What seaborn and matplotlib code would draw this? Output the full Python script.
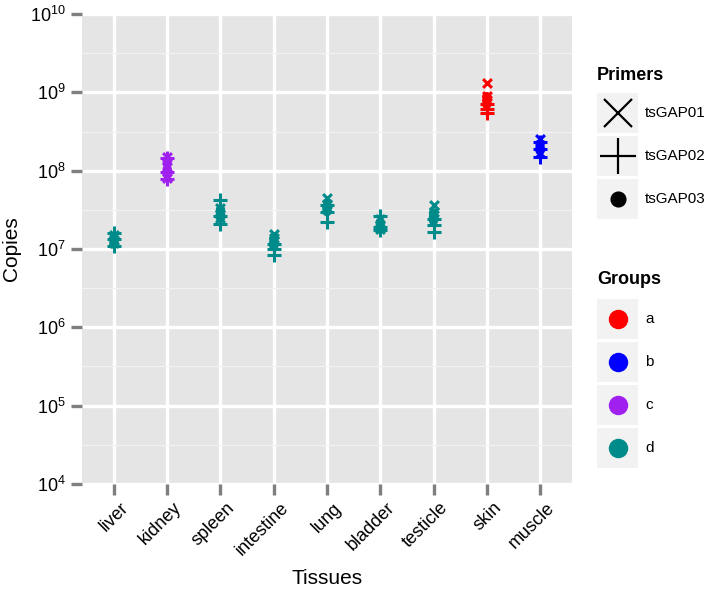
import numpy as np
import pandas as pd
import seaborn as sns
import matplotlib.pyplot as plt
import matplotlib.transforms as mtransforms
from matplotlib.lines import Line2D
from matplotlib.patches import Rectangle

# tissues, their group and the three primers
tissues = ['liver', 'kidney', 'spleen', 'intestine', 'lung',
           'bladder', 'testicle', 'skin', 'muscle']
tissue_groups = ['d', 'c', 'd', 'd', 'd', 'd', 'd', 'a', 'b']
primers = ['tsGAP01', 'tsGAP02', 'tsGAP03']
group_names = ['a', 'b', 'c', 'd']
group_colors = ['#FF0000', '#0000FF', '#A020F0', '#008B8B']

# copies, three replicates per tissue
gap01 = [[1.5e7, 1.3e7, 1.2e7], [1.5e8, 1.1e8, 8.0e7], [3.3e7, 2.8e7, 2.5e7],
         [1.55e7, 1.4e7, 1.25e7], [4.5e7, 3.8e7, 3.3e7], [2.4e7, 2.0e7, 1.8e7],
         [3.6e7, 3.0e7, 2.7e7], [1.32e9, 9.0e8, 8.0e8], [2.5e8, 2.1e8, 1.7e8]]
gap02 = [[1.6e7, 1.35e7, 1.1e7], [1.45e8, 9.5e7, 7.8e7], [4.2e7, 2.6e7, 2.1e7],
         [1.15e7, 1.0e7, 8.5e6], [3.6e7, 3.0e7, 2.2e7], [2.6e7, 1.9e7, 1.75e7],
         [2.4e7, 2.0e7, 1.65e7], [7.0e8, 6.2e8, 5.4e8], [2.3e8, 1.9e8, 1.5e8]]
gap03 = [[1.4e7, 1.25e7, 1.15e7], [1.25e8, 1.05e8, 9.0e7], [3.2e7, 2.8e7, 2.5e7],
         [1.35e7, 1.2e7, 1.1e7], [3.5e7, 3.2e7, 3.0e7], [2.2e7, 2.0e7, 1.8e7],
         [2.9e7, 2.6e7, 2.3e7], [8.8e8, 7.8e8, 7.0e8], [2.2e8, 2.0e8, 1.8e8]]

rows = []
for primer, vals in zip(primers, [gap01, gap02, gap03]):
    for t, g, reps in zip(tissues, tissue_groups, vals):
        for v in reps:
            rows.append({'Tissues': t, 'Groups': g, 'Primers': primer, 'Copies': v})
df = pd.DataFrame(rows)

plt.rcParams['font.family'] = ['Liberation Sans', 'DejaVu Sans']
plt.rcParams['mathtext.default'] = 'regular'

fig = plt.figure(figsize=(7.09, 5.89), dpi=100)
ax = fig.add_axes([82 / 709, 105 / 589, 490 / 709, 470 / 589])
ax.set_facecolor('#E5E5E5')

palette = dict(zip(group_names, group_colors))
marker_map = {'tsGAP01': 'x', 'tsGAP02': '+', 'tsGAP03': 'o'}
size_map = {'tsGAP01': 40, 'tsGAP02': 90, 'tsGAP03': 45}
df['pos'] = df['Tissues'].map({t: i for i, t in enumerate(tissues)})

for primer in primers:
    sub = df[df['Primers'] == primer]
    if primer == 'tsGAP03':
        sns.scatterplot(data=sub, x='pos', y='Copies', hue='Groups', palette=palette,
                        marker='o', s=size_map[primer], edgecolor='none',
                        legend=False, zorder=3, ax=ax)
    else:
        for g in group_names:
            s = sub[sub['Groups'] == g]
            ax.scatter(s['pos'], s['Copies'], marker=marker_map[primer],
                       s=size_map[primer], color=palette[g], linewidths=2.2, zorder=3)

ax.set_yscale('log')
ax.set_ylim(1e4, 1e10)
ax.set_xlim(-0.6, len(tissues) - 0.4)

major = [10.0 ** k for k in range(4, 11)]
minor = [10.0 ** (k + 0.5) for k in range(4, 10)]
ax.set_yticks(major)
ax.set_yticklabels(['$10^{%d}$' % k for k in range(4, 11)])
ax.set_yticks(minor, minor=True)
ax.yaxis.set_minor_formatter(plt.NullFormatter())
ax.set_xticks(range(len(tissues)))
ax.set_xticklabels(tissues, rotation=45, ha='right', va='center',
                   rotation_mode='anchor')

ax.grid(True, which='major', color='white', linewidth=2.4)
ax.grid(True, which='minor', axis='y', color='#F2F2F2', linewidth=0.9)
ax.set_axisbelow(True)
for sp in ax.spines.values():
    sp.set_visible(False)
ax.tick_params(axis='both', which='major', length=8, width=2.4, color='#7F7F7F',
               labelsize=13, labelcolor='black', pad=4)
ax.tick_params(axis='y', which='minor', length=0)
ax.tick_params(axis='x', pad=6)

# nudge the rotated tissue names so their ends sit right of the ticks
shift = mtransforms.ScaledTranslation(12 / 100, -2 / 100, fig.dpi_scale_trans)
for lab in ax.get_xticklabels():
    lab.set_transform(lab.get_transform() + shift)

ax.set_xlabel('Tissues', fontsize=15)
ax.xaxis.set_label_coords(0.5, -0.18)
ax.set_ylabel('Copies', fontsize=15, labelpad=6)

# legends drawn beside the panel
W, H = 709, 589


def fx(px):
    return px / W


def fy(py):
    return 1 - py / H


fig.text(fx(597), fy(75), 'Primers', fontsize=13, fontweight='bold', va='center')
for i, primer in enumerate(primers):
    cy = 113 + 43 * i
    fig.add_artist(Rectangle((fx(597), fy(cy + 20)), 41 / W, 40 / H,
                             transform=fig.transFigure, facecolor='#F2F2F2',
                             edgecolor='none'))
    ms = {'tsGAP01': 20, 'tsGAP02': 26, 'tsGAP03': 10}[primer]
    fig.add_artist(Line2D([fx(617.5)], [fy(cy)], marker=marker_map[primer],
                          markersize=ms, color='black', markeredgewidth=1.6,
                          linestyle='none', transform=fig.transFigure))
    fig.text(fx(645), fy(cy), primer, fontsize=11, va='center')

fig.text(fx(597), fy(280), 'Groups', fontsize=13, fontweight='bold', va='center')
for i, g in enumerate(group_names):
    cy = 319 + 43 * i
    fig.add_artist(Rectangle((fx(597), fy(cy + 20)), 41 / W, 40 / H,
                             transform=fig.transFigure, facecolor='#F2F2F2',
                             edgecolor='none'))
    fig.add_artist(Line2D([fx(617.5)], [fy(cy)], marker='o', markersize=14,
                          color=palette[g], markeredgewidth=0,
                          linestyle='none', transform=fig.transFigure))
    fig.text(fx(645), fy(cy), g, fontsize=11, va='center')

fig.savefig('out.png', dpi=100)
